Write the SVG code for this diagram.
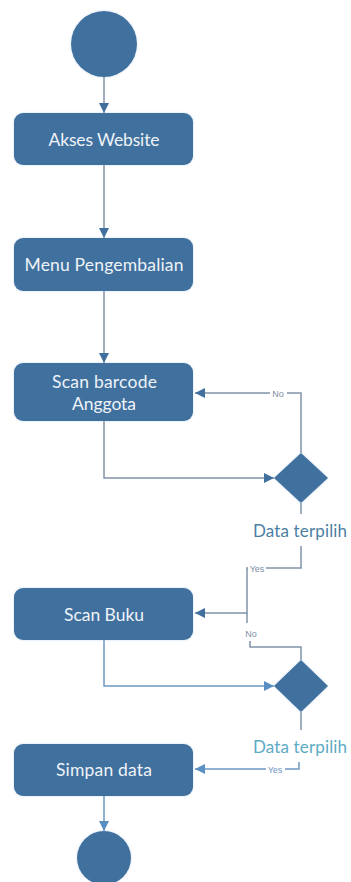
<svg xmlns="http://www.w3.org/2000/svg" width="351" height="882" viewBox="0 0 351 882">
<defs>
<filter id="glow" x="-10%" y="-20%" width="120%" height="140%">
<feGaussianBlur in="SourceAlpha" stdDeviation="1.5"/>
<feFlood flood-color="#9fc3e6" flood-opacity="0.6"/>
<feComposite operator="in" in2="SourceAlpha"/>
<feGaussianBlur stdDeviation="1.2"/>
<feMerge><feMergeNode/><feMergeNode in="SourceGraphic"/></feMerge>
</filter>
<marker id="ah" viewBox="0 0 10 10" refX="10" refY="5" markerWidth="10" markerHeight="10" markerUnits="userSpaceOnUse" orient="auto">
<path d="M0,0 L10,5 L0,10 z" fill="#41709e"/>
</marker>
<marker id="ah2" viewBox="0 0 10 10" refX="10" refY="5" markerWidth="10" markerHeight="10" markerUnits="userSpaceOnUse" orient="auto">
<path d="M0,0 L10,5 L0,10 z" fill="#5a8fc4"/>
</marker>
</defs>
<style>
.node{fill:#41709e;filter:url(#glow)}
.lbl{font-family:Lato,"Open Sans",sans-serif;font-size:17.5px;fill:#eef3f8;text-anchor:middle}
.c1{fill:none;stroke:#8193a8;stroke-width:1.5}
.c2{fill:none;stroke:#6f97c2;stroke-width:1.5}
.small{font-family:"Liberation Sans",sans-serif;font-size:9px;fill:#7d8fa5;text-anchor:middle}
.small2{font-family:"Liberation Sans",sans-serif;font-size:9px;fill:#6f97c2;text-anchor:middle}
.guard{font-family:Lato,"Open Sans",sans-serif;font-size:17px;text-anchor:middle}
</style>
<g id="connectors">
<path class="c1" d="M104,77 V113" marker-end="url(#ah)"/>
<path class="c1" d="M104,165 V238" marker-end="url(#ah)"/>
<path class="c1" d="M104,291 V363" marker-end="url(#ah)"/>
<path class="c1" d="M104,421 V478 H274" marker-end="url(#ah)"/>
<path class="c1" d="M301,453 V393 H195" marker-end="url(#ah)"/>
<path class="c1" d="M301,503 V514"/>
<path class="c1" d="M301,546 V568 H247 V613 H195" marker-end="url(#ah)"/>
<path class="c1" d="M247,613 V623"/>
<path class="c1" d="M250,641 V647 H301 V660"/>
<path class="c2" d="M104,640 V686 H274" marker-end="url(#ah2)"/>
<path class="c1" d="M301,712 V730"/>
<path class="c2" d="M299,762 V769 H195" marker-end="url(#ah2)"/>
<path class="c2" d="M104,796 V831" marker-end="url(#ah2)"/>
<rect x="270" y="388" width="17" height="10" fill="#fff"/>
<text class="small" x="278" y="396.5">No</text>
<rect x="248" y="563" width="18" height="10" fill="#fff"/>
<text class="small" x="257" y="571.5">Yes</text>
<text class="small" x="251" y="636.5">No</text>
<rect x="266" y="764" width="19" height="10" fill="#fff"/>
<text class="small2" x="275" y="772.5">Yes</text>
</g>
<g id="start"><circle cx="104" cy="44" r="33" class="node"/></g>
<g id="akses"><rect x="14" y="113" width="179" height="52" rx="9" class="node"/><text class="lbl" x="104" y="145.5" textLength="111" lengthAdjust="spacing">Akses Website</text></g>
<g id="menu"><rect x="14" y="238" width="179" height="53" rx="9" class="node"/><text class="lbl" x="104" y="270.5" textLength="159" lengthAdjust="spacing">Menu Pengembalian</text></g>
<g id="scanbarcode"><rect x="14" y="363" width="179" height="58" rx="9" class="node"/><text class="lbl" x="104.5" y="388" textLength="105" lengthAdjust="spacing">Scan barcode</text><text class="lbl" x="104" y="410" textLength="64" lengthAdjust="spacing">Anggota</text></g>
<g id="decision1"><path d="M301,453 L328,478 L301,503 L274,478 z" class="node"/><text class="guard" x="300" y="537" fill="#4d7fa3" textLength="94" lengthAdjust="spacing">Data terpilih</text></g>
<g id="scanbuku"><rect x="14" y="588" width="179" height="52" rx="9" class="node"/><text class="lbl" x="104" y="621" textLength="80" lengthAdjust="spacing">Scan Buku</text></g>
<g id="decision2"><path d="M301,660 L328,686 L301,712 L274,686 z" class="node"/><text class="guard" x="300" y="753" fill="#5cabc4" textLength="94" lengthAdjust="spacing">Data terpilih</text></g>
<g id="simpan"><rect x="14" y="744" width="179" height="52" rx="9" class="node"/><text class="lbl" x="104" y="776" textLength="96" lengthAdjust="spacing">Simpan data</text></g>
<g id="end"><circle cx="104" cy="858" r="27" class="node"/></g>
</svg>
